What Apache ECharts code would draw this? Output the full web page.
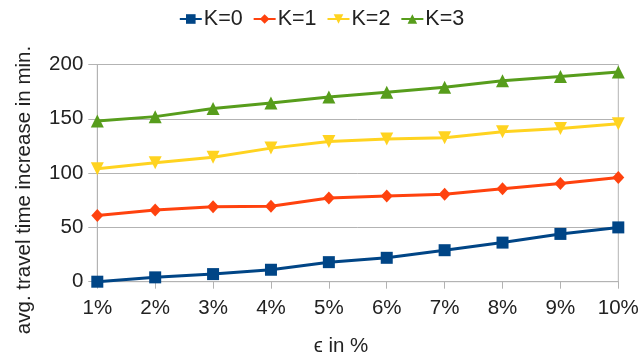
<!DOCTYPE html>
<html>
<head>
<meta charset="utf-8">
<script src="https://cdn.jsdelivr.net/npm/echarts@6/dist/echarts.min.js"></script>
<style>
  html, body { margin: 0; padding: 0; background: #fff; }
  #chart { width: 643px; height: 355px; }
</style>
</head>
<body>
<div id="chart"></div>
<script>
// Average travel time increase per epsilon setting, one series per K
const categories = ['1%', '2%', '3%', '4%', '5%', '6%', '7%', '8%', '9%', '10%'];
const seriesNames = ['K=0', 'K=1', 'K=2', 'K=3'];
const k0 = [0, 4, 7, 11, 18, 22, 29, 36, 44, 50];
const k1 = [61, 66, 69, 69.5, 77, 79, 80.5, 85.5, 90.5, 96];
const k2 = [104, 109.5, 114.5, 123, 129, 131.5, 132.5, 138, 141, 145.5];
const k3 = [148, 152, 159.5, 164.5, 170, 174.5, 179, 185, 189, 193];
const yTicks = [0, 50, 100, 150, 200];

const FONT = '"Liberation Sans", Arial, sans-serif';
const TEXT = '#222';
const GRIDC = '#b3b3b3';

const colors = ['#004586', '#ff420e', '#ffd320', '#579d1c'];
const symbols = [
  { symbol: 'rect', size: 12, rotate: 0 },
  { symbol: 'diamond', size: [12, 13], rotate: 0 },
  { symbol: 'triangle', size: 13, rotate: 180 },
  { symbol: 'triangle', size: 13, rotate: 0 }
];
const values = [k0, k1, k2, k3];

const chart = echarts.init(document.getElementById('chart'), null, { renderer: 'canvas' });

chart.setOption({
  animation: false,
  color: colors,
  legend: {
    top: 3,
    left: 'center',
    itemWidth: 22,
    itemHeight: 12,
    itemGap: 10,
    textStyle: { fontFamily: FONT, fontSize: 21.5, color: TEXT, padding: [0, 0, 0, -3] },
    data: seriesNames
  },
  grid: {
    left: 97.3, right: 24.7, top: 64.5, bottom: 73.3,
    show: true, borderColor: GRIDC, borderWidth: 1, backgroundColor: 'transparent'
  },
  xAxis: {
    type: 'category',
    data: categories,
    boundaryGap: false,
    axisLine: { lineStyle: { color: GRIDC, width: 1 } },
    axisTick: { show: true, length: 7, alignWithLabel: true, lineStyle: { color: GRIDC } },
    axisLabel: { fontFamily: FONT, fontSize: 20.5, color: TEXT, margin: 16 },
    splitLine: { show: false }
  },
  yAxis: {
    type: 'value',
    min: yTicks[0],
    max: yTicks[yTicks.length - 1],
    interval: 50,
    axisLine: { show: true, lineStyle: { color: GRIDC, width: 1 } },
    axisTick: { show: true, length: 9, lineStyle: { color: GRIDC } },
    axisLabel: { fontFamily: FONT, fontSize: 20.5, color: TEXT, margin: 14 },
    splitLine: { show: true, lineStyle: { color: GRIDC, width: 1 } }
  },
  graphic: [
    {
      type: 'text',
      x: 24, y: 190,
      rotation: Math.PI / 2,
      style: {
        text: 'avg. travel time increase in min.',
        fontFamily: FONT, fontSize: 20.5, fill: TEXT,
        align: 'center', verticalAlign: 'middle'
      }
    },
    {
      type: 'text',
      x: 341, y: 346,
      style: {
        text: 'ϵ in %',
        fontFamily: FONT, fontSize: 20.5, fill: TEXT,
        align: 'center', verticalAlign: 'middle'
      }
    }
  ],
  series: seriesNames.map((name, i) => ({
    name: name,
    type: 'line',
    data: values[i],
    symbol: symbols[i].symbol,
    symbolSize: symbols[i].size,
    symbolRotate: symbols[i].rotate,
    showAllSymbol: true,
    lineStyle: { width: 3, color: colors[i] },
    itemStyle: { color: colors[i] },
    z: 2 + i
  }))
});
</script>
</body>
</html>
